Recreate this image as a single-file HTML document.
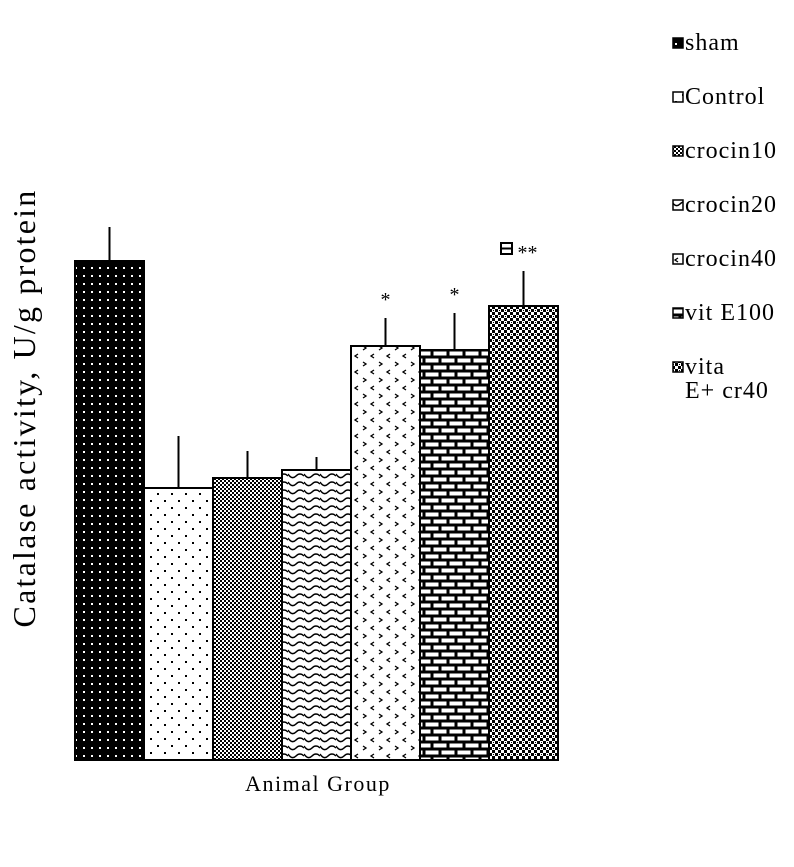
<!DOCTYPE html>
<html><head><meta charset="utf-8"><style>
html,body{margin:0;padding:0;background:#fff;}
svg{display:block;font-family:"Liberation Serif",serif;}
</style></head><body>
<svg id="chart" width="794" height="867" viewBox="0 0 794 867">
<defs>
<pattern id="p0" width="8" height="8" patternUnits="userSpaceOnUse"><rect width="8" height="8" fill="#000"/><rect x="3" y="3" width="2" height="2" fill="#fff"/></pattern>
<pattern id="p1" width="14" height="14" patternUnits="userSpaceOnUse"><rect width="14" height="14" fill="#fff"/><rect x="3" y="3" width="2" height="2" fill="#000"/><rect x="10" y="10" width="2" height="2" fill="#000"/></pattern>
<pattern id="p2" width="4" height="4" patternUnits="userSpaceOnUse"><rect width="4" height="4" fill="#fff"/><rect width="2" height="2" fill="#000"/><rect x="2" y="2" width="2" height="2" fill="#000"/></pattern>
<pattern id="p3" width="16" height="8" patternUnits="userSpaceOnUse"><rect width="16" height="8" fill="#fff"/><path d="M0 2 Q4 8 8 4 Q12 0 16 4" fill="none" stroke="#000" stroke-width="1.5"/></pattern>
<pattern id="p4" width="16" height="16" patternUnits="userSpaceOnUse"><rect width="16" height="16" fill="#fff"/><path d="M6 2 L3 4 L6 6 M11 10 L14 12 L11 14" fill="none" stroke="#000" stroke-width="1.3"/></pattern>
<pattern id="p5" width="16" height="14" patternUnits="userSpaceOnUse"><rect width="16" height="14" fill="#000"/><rect x="1.5" y="1.5" width="13" height="4" fill="#fff"/><rect x="-6.5" y="8.5" width="13" height="4" fill="#fff"/><rect x="9.5" y="8.5" width="13" height="4" fill="#fff"/></pattern>
<pattern id="p6" width="6" height="6" patternUnits="userSpaceOnUse"><rect width="6" height="6" fill="#fff"/><rect width="3" height="3" fill="#000"/><rect x="3" y="3" width="3" height="3" fill="#000"/><rect x="1" y="4" width="1" height="1" fill="#000"/></pattern>
</defs>
<g id="bars"></g>
<text transform="translate(35,408) rotate(-90)" text-anchor="middle" font-size="32" letter-spacing="2.2">Catalase activity, U/g protein</text>
<text x="318" y="791" text-anchor="middle" font-size="22" letter-spacing="1.5">Animal Group</text>
<g id="legend"></g>
</svg>
<script>
const categories = ["sham","Control","crocin10","crocin20","crocin40","vit E100","vita E+ cr40"];
const values = [499, 272, 282, 290, 414, 410, 454];
const errors = [34, 52, 27, 13, 28, 37, 35];
const marks = ["", "", "", "", "*", "*", "**"];
const NS="http://www.w3.org/2000/svg";
const baseY=760, x0=75, bw=69, yScale=v=>baseY-v;
const xPos=i=>x0+i*69;
const g=document.getElementById('bars');
function mk(tag,attrs,parent){const e=document.createElementNS(NS,tag);for(const k in attrs)e.setAttribute(k,attrs[k]);parent.appendChild(e);return e;}
categories.forEach((c,i)=>{
  const x=xPos(i), top=yScale(values[i]);
  const r=mk('rect',{x:x,y:top,width:bw,height:baseY-top,fill:'url(#p'+i+')',stroke:'#000','stroke-width':2},g);
  
  
  const l=mk('line',{x1:x+bw/2,x2:x+bw/2,y1:top,y2:yScale(values[i]+errors[i]),stroke:'#000','stroke-width':2},g);
  
  
  if(marks[i]){
    const t=mk('text',{x:x+bw/2+(i===6?4:0),y:yScale(values[i]+errors[i])-12,'text-anchor':'middle','font-size':20},g);
    t.textContent=marks[i];
    
    
  }
});
const sx=xPos(6)+12, sy=yScale(values[6]+errors[6])-28;
const s=mk('rect',{x:sx,y:sy,width:11,height:11,fill:'#fff',stroke:'#000','stroke-width':2},g);


mk('line',{x1:sx,x2:sx+11,y1:sy+5.5,y2:sy+5.5,stroke:'#000','stroke-width':2},g);
const lg=document.getElementById('legend');
categories.forEach((c,i)=>{
  const y=50+i*54;
  const e=mk('g',{},lg);
  
  
  mk('rect',{x:673,y:y-12,width:10,height:10,fill:'url(#p'+i+')',stroke:'#000','stroke-width':1.5},e);
  const t=mk('text',{x:685,y:y,'font-size':24,'letter-spacing':1},e);
  if(i===6){t.textContent='vita';const t2=mk('text',{x:685,y:y+24,'font-size':24,'letter-spacing':1},e);t2.textContent='E+ cr40';}
  else t.textContent=c;
});
</script>
</body></html>
